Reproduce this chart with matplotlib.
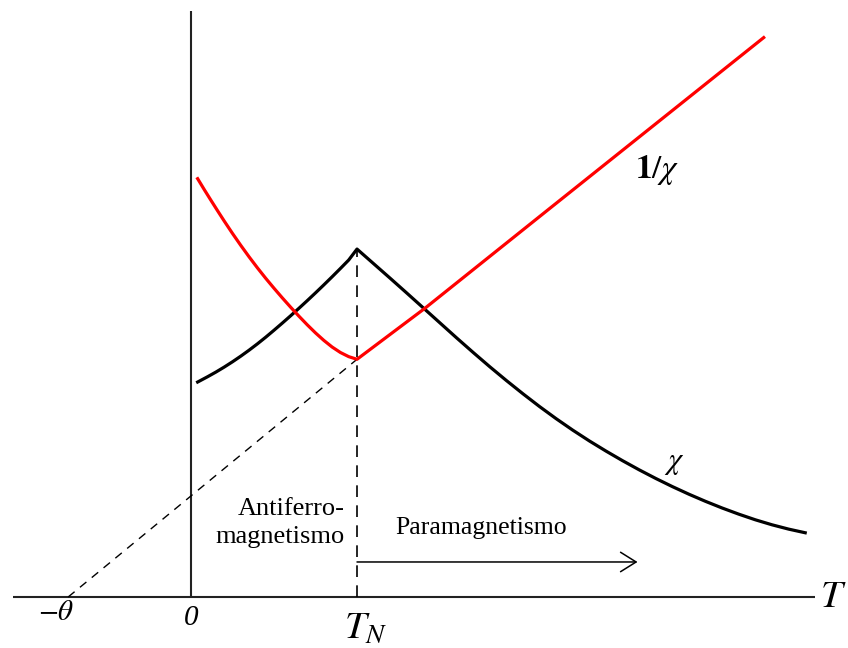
import matplotlib
matplotlib.use("Agg")
import matplotlib.pyplot as plt

plt.rcParams["mathtext.fontset"] = "stix"
plt.rcParams["font.family"] = ["Liberation Serif", "DejaVu Serif"]

# temperature scale: T_N = 100, Curie-Weiss intercept at -theta
T_N = 100
theta = 74

# 1/chi (red): drops to a minimum at T_N, then rises linearly
T_inv = [4, 8, 12, 16, 20, 25, 30, 35, 40, 45, 50, 55, 60, 65, 70, 75, 80,
         85, 90, 95, 100, 141, 216, 345]
inv_chi = [252, 245.4, 239, 232.7, 226.5, 219, 211.8, 204.9, 198.3, 192, 186,
           180.2, 174.6, 169.2, 164, 159.1, 154.6, 150.6, 147.3, 144.8, 143.2,
           174, 234, 337]

# chi (black): cusp at T_N, Curie-Weiss tail above it
T_chi = [4, 10, 15, 20, 25, 30, 35, 40, 45, 50, 55, 60, 65, 70, 75, 80, 85,
         90, 95, 100, 110, 120, 130, 140, 150, 160, 170, 180, 190, 200, 210,
         220, 230, 240, 250, 260, 270, 280, 290, 300, 310, 320, 330, 340,
         350, 360, 370]
chi = [129.5, 132.7, 135.5, 138.5, 141.7, 145.1, 148.7, 152.5, 156.5, 160.7,
       165, 169.4, 173.9, 178.5, 183.2, 188, 192.9, 197.9, 203, 209.6,
       200.8, 192, 183.1, 174.1, 165.1, 156.1, 147.3, 138.7, 130.4, 122.4,
       114.7, 107.4, 100.5, 94, 87.9, 82.1, 76.6, 71.4, 66.5, 61.9, 57.6,
       53.6, 49.9, 46.5, 43.5, 40.9, 38.7]

# extent of the drawn T and vertical axes
T_axis = [-107, 376]
y_axis_top = 353

fig = plt.figure(figsize=(8.48, 6.48), dpi=100)
ax = fig.add_axes([0, 0, 1, 1])
ax.set_xlim(-115.06, 395.78)
ax.set_ylim(-30.72, 359.64)
ax.axis("off")

# axes lines
ax.plot(T_axis, [0, 0], color="#222222", lw=1.5, solid_capstyle="butt")
ax.plot([0, 0], [0, y_axis_top], color="#222222", lw=1.5, solid_capstyle="butt")

# extrapolation of 1/chi down to -theta, and T_N marker
ax.plot([-theta, T_N], [0, inv_chi[T_inv.index(T_N)]], color="black", lw=1.0,
        linestyle=(0, (6, 5)))
ax.plot([T_N, T_N], [0, chi[T_chi.index(T_N)]], color="black", lw=1.2,
        linestyle=(0, (7, 5)))

# curves
ax.plot(T_chi, chi, color="black", lw=2.3, solid_joinstyle="round")
ax.plot(T_inv, inv_chi, color="#ff0000", lw=2.3, solid_joinstyle="round")

# paramagnetic region arrow
ax.annotate("", xy=(269, 21.1), xytext=(T_N, 21.1),
            arrowprops=dict(arrowstyle="->,head_length=0.8,head_width=0.5",
                            color="black", lw=1.1, shrinkA=0, shrinkB=0,
                            mutation_scale=14))

# labels
ax.text(281, 257, r"$\mathbf{1}/\chi$", fontsize=24, ha="center", va="center")
ax.text(291, 81, r"$\chi$", fontsize=22, ha="center", va="center")
ax.text(387, 0, r"$T$", fontsize=28, ha="center", va="center")
ax.text(T_N + 5, -7.5, r"$T_N$", fontsize=28, ha="center", va="top")
ax.text(0, -12.5, "0", fontsize=21, fontstyle="italic", ha="center",
        va="center")
ax.text(-81, -9.6, r"$-\theta$", fontsize=21, ha="center", va="center")
ax.text(92.8, 44.6, "Antiferro-\nmagnetismo", fontsize=19, ha="right",
        va="center", multialignment="right", linespacing=1.3)
ax.text(174.7, 41.6, "Paramagnetismo", fontsize=18.5, ha="center", va="center")

fig.savefig("out.png", dpi=100, facecolor="white")
